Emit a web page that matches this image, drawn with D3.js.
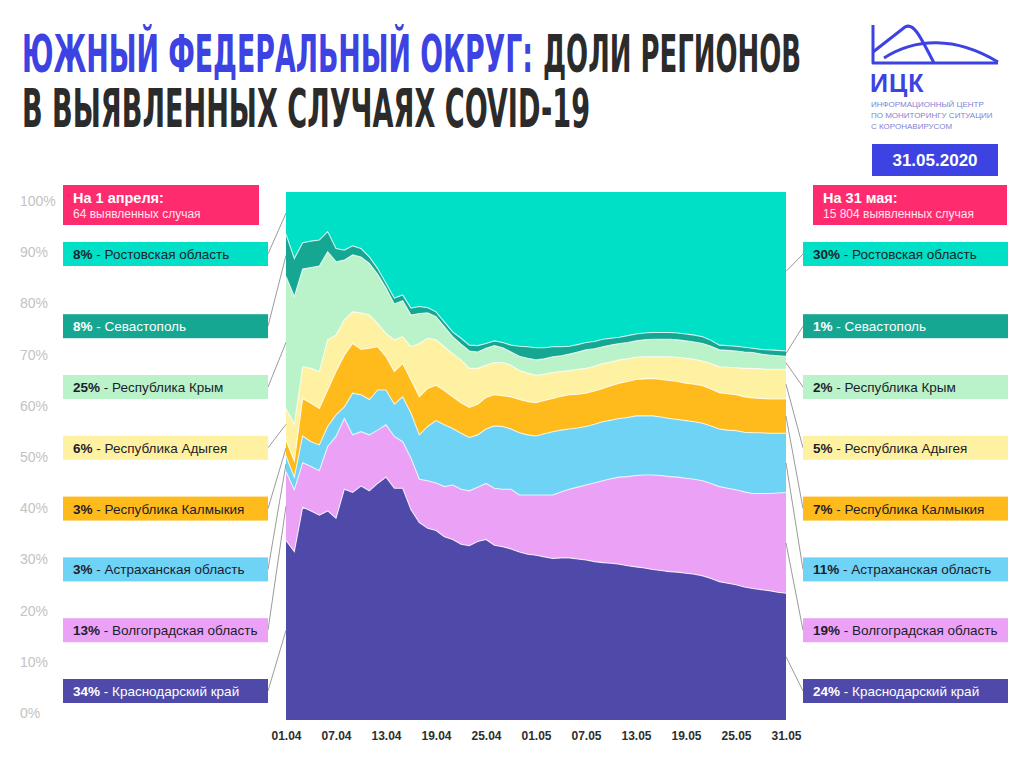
<!DOCTYPE html>
<html><head><meta charset="utf-8">
<script src="https://cdn.jsdelivr.net/npm/d3@7"></script>
<style>
html,body{margin:0;padding:0;background:#fff;}
svg{display:block;font-family:"Liberation Sans",Arial,Helvetica,sans-serif;}
</style></head>
<body><svg id="c" width="1024" height="768"></svg>
<script>
// ---------- DATA ----------
const tickLabels = ["01.04","07.04","13.04","19.04","25.04","01.05","07.05","13.05","19.05","25.05","31.05"];
const regions = ["Краснодарский край","Волгоградская область","Астраханская область","Республика Калмыкия","Республика Адыгея","Республика Крым","Севастополь","Ростовская область"];
const startPct = ["34%","13%","3%","3%","6%","25%","8%","8%"];
const endPct   = ["24%","19%","11%","7%","5%","2%","1%","30%"];
const startHeader = ["На 1 апреля:","64 выявленных случая"];
const endHeader = ["На 31 мая:","15 804 выявленных случая"];
const yTicks = [0,10,20,30,40,50,60,70,80,90,100];

// daily shares (%) 01.04 … 31.05
const krasnodar = [34,31.9,40.3,39.6,38.8,39.6,38.2,43.7,43.1,44.3,43.4, 44.8,46.0,43.9,43.9,39.8,37.4,36.3,35.9,34.7,34.2, 33.3,33.0,33.8,34.2,33.1,32.8,32.4,31.8,31.4,31.2, 30.9,30.6,30.7,30.7,30.5,30.3,30.0,29.8,29.7,29.5, 29.2,29.0,28.8,28.5,28.3,28.1,28.0,27.8,27.6,27.3, 26.8,26.2,25.9,25.6,25.2,24.9,24.7,24.5,24.2,24.0];
const volgograd = [13,11.7,8.4,8.4,8.4,12.2,15.5,13.4,10.9,10.3,10.6, 10.1,9.9,9.8,8.8,9.8,8.2,9.0,9.0,9.5,10.3, 10.4,10.4,10.3,10.6,10.8,10.9,11.3,10.8,11.2,11.4, 11.7,12.0,12.5,13.0,13.6,14.2,14.9,15.5,16.0,16.5, 16.9,17.3,17.6,17.9,18.0,18.0,18.0,18.0,18.0,18.0, 18.0,18.0,18.0,18.0,18.0,18.0,18.2,18.4,18.8,19.1];
const astrakhan = [3,2.4,5.1,4.7,4.9,3.8,4.1,2.2,7.9,7.0,6.7, 7.6,6.6,6.1,8.5,8.5,8.4,10.3,11.8,11.7,10.7, 10.6,10.1,9.9,10.3,11.8,11.9,11.4,11.8,11.4,11.2, 11.6,12.0,11.7,11.4,11.2,11.1,11.1,11.2,11.1,11.1, 11.2,11.3,11.2,11.2,11.1,11.0,10.9,10.9,10.9,10.9, 10.9,10.9,11.0,11.2,11.3,11.5,11.5,11.4,11.3,11.2];
const kalmykia = [3,3.0,7.1,7.3,6.9,6.9,8.2,9.8,9.4,8.6,9.7, 8.2,6.3,6.2,6.3,6.3,7.2,7.2,6.7,6.5,6.0, 5.8,5.7,5.8,6.0,5.9,5.8,6.1,6.3,6.3,6.3, 6.3,6.3,6.4,6.5,6.4,6.3,6.3,6.3,6.5,6.7, 6.8,6.9,7.0,7.1,7.1,7.2,7.2,7.1,7.1,7.1, 7.0,6.9,6.9,6.8,6.7,6.6,6.5,6.5,6.5,6.5];
const adygea = [6,7.0,6.0,6.6,7.0,9.5,6.9,6.7,6.0,6.9,6.3, 4.4,4.4,6.0,5.1,6.3,10.1,9.5,8.6,8.3,8.2, 8.1,7.4,6.8,6.1,6.1,6.3,6.0,5.5,5.4,5.2, 5.0,4.9,4.7,4.6,4.7,4.7,4.7,4.7,4.5,4.4, 4.3,4.2,4.2,4.1,4.3,4.5,4.6,4.7,4.7,4.7, 4.8,4.9,5.0,5.1,5.4,5.6,5.6,5.6,5.6,5.6];
const crimea = [25,24.2,18.5,19.1,20.0,16.7,13.9,11.3,10.8,10.6,9.8, 9.3,8.6,6.8,6.8,6.0,5.7,4.8,4.4,3.8,3.2, 3.0,3.3,3.1,3.2,3.2,2.8,2.5,2.7,2.8,2.9, 2.9,3.0,3.0,3.1,3.3,3.5,3.3,3.2,3.2,3.1, 3.1,3.1,3.2,3.3,3.3,3.3,3.3,3.3,3.3,3.3, 3.3,3.2,3.2,3.2,3.1,3.0,2.8,2.7,2.6,2.5];
const sevastopol = [8,7.2,5.0,5.0,4.9,3.8,2.5,1.9,1.7,1.6,1.2, 1.1,0.9,1.1,1.1,1.3,1.3,1.0,0.9,0.9,0.9, 1.1,1.1,1.2,0.9,0.9,1.0,1.3,1.9,2.2,2.3, 2.1,1.9,1.7,1.5,1.4,1.4,1.4,1.4,1.3,1.2, 1.3,1.3,1.3,1.3,1.3,1.3,1.3,1.3,1.3,1.3, 1.1,0.9,0.9,0.9,0.9,0.8,0.9,1.0,1.0,1.0];
const rostov = [8,12.6,9.6,9.3,9.1,7.5,10.7,11.0,10.2,10.7,12.3, 14.5,17.3,20.1,19.5,22.0,21.7,21.9,22.7,24.6,26.5, 27.7,29.0,29.1,28.7,28.2,28.5,29.0,29.2,29.3,29.5, 29.5,29.3,29.3,29.2,28.9,28.5,28.3,27.9,27.7,27.5, 27.2,26.9,26.7,26.6,26.6,26.6,26.7,26.9,27.1,27.4, 28.1,29.0,29.1,29.2,29.4,29.6,29.8,29.9,30.0,30.1];

// ---------- STYLE ----------
const colors = ["#4f4aa9","#eba2f6","#6fd3f6","#ffbb1c","#fff1a2","#baf2ca","#16a793","#00e0c7"];
const textColors = ["#fff","#1d1d2b","#1d1d2b","#1d1d2b","#1d1d2b","#1d1d2b","#fff","#1d1d2b"];
const blue = "#3d42e2", pink = "#ff2b6f";

const series = [krasnodar,volgograd,astrakhan,kalmykia,adygea,crimea,sevastopol,rostov];
const nDays = krasnodar.length;
const table = d3.range(nDays).map(i => {
  const o = {day:i};
  regions.forEach((r,k)=> o[r] = series[k][i]);
  return o;
});
const stacked = d3.stack().keys(regions).offset(d3.stackOffsetExpand)(table);

const svg = d3.select("#c");
svg.append("rect").attr("width",1024).attr("height",768).attr("fill","#fff");

const x = d3.scaleLinear().domain([0,nDays-1]).range([286,786]);
const y = d3.scaleLinear().domain([0,1]).range([720,192]);
const yLab = d3.scaleLinear().domain([0,100]).range([713,201]);

// areas
const area = d3.area().x(d=>x(d.data.day)).y0(d=>y(d[0])).y1(d=>y(d[1]));
svg.append("g").selectAll("path").data(stacked).join("path")
  .attr("d",area).attr("fill",(d,i)=>colors[i]);
const topLine = d3.line().x(d=>x(d.data.day)).y(d=>y(d[1]));
svg.append("g").selectAll("path").data(stacked.slice(0,7)).join("path")
  .attr("d",topLine).attr("fill","none")
  .attr("stroke","rgba(255,255,255,0.75)").attr("stroke-width",1.1);

// y labels
svg.append("g").selectAll("text").data(yTicks).join("text")
  .attr("x",20).attr("y",d=>yLab(d)).attr("dy","0.36em")
  .attr("font-size",14).attr("fill","#c3c3c3").text(d=>d+"%");

// x axis
const tickDays = tickLabels.map((t,i)=>i*6);
const xAxis = d3.axisBottom(x).tickValues(tickDays).tickSize(0).tickPadding(11)
  .tickFormat((d,i)=>tickLabels[i]);
const gx = svg.append("g").attr("transform","translate(0,720)").call(xAxis);
gx.select(".domain").remove();
gx.selectAll("text").attr("font-size",12).attr("font-weight","bold")
  .attr("fill","#2e2e2e").attr("font-family","Liberation Sans, Arial, sans-serif");

// label boxes
const boxTop = k => k<7 ? 679 - k*60.8 : 242;
function drawBoxes(side){
  const left = side==="L";
  const bx = left ? 63 : 803, bw = 205, bh = 24;
  const di = left ? 0 : nDays-1;
  const pcts = left ? startPct : endPct;
  const g = svg.append("g");
  regions.forEach((r,k)=>{
    const t = boxTop(k);
    const s = stacked[k][di];
    const ym = y((s[0]+s[1])/2);
    g.append("line")
      .attr("x1", left ? bx+bw : bx).attr("y1", t+bh/2)
      .attr("x2", left ? 286 : 786).attr("y2", ym)
      .attr("stroke","#8f8f8f").attr("stroke-width",0.9);
    g.append("rect").attr("x",bx).attr("y",t).attr("width",bw).attr("height",bh).attr("fill",colors[k]);
    const tx = g.append("text").attr("x",bx+10).attr("y",t+17).attr("font-size",13.5).attr("fill",textColors[k]);
    tx.append("tspan").attr("font-weight","bold").text(pcts[k]);
    tx.append("tspan").text(" - "+r);
  });
  const hx = left ? 63 : 813, hw = left ? 196 : 194;
  const hdr = left ? startHeader : endHeader;
  g.append("rect").attr("x",hx).attr("y",185).attr("width",hw).attr("height",40).attr("fill",pink);
  g.append("text").attr("x",hx+10).attr("y",203).attr("font-size",14.5).attr("font-weight","bold")
    .attr("fill","#fff").text(hdr[0]);
  g.append("text").attr("x",hx+10).attr("y",218).attr("font-size",12).attr("fill","#ffe3ec").text(hdr[1]);
}
drawBoxes("L"); drawBoxes("R");

// title
const tf = "'Liberation Sans Narrow','DejaVu Sans Condensed','Liberation Sans',sans-serif";
svg.append("text").attr("x",22).attr("y",72).attr("font-family",tf).attr("font-weight","bold")
  .attr("font-size",52).attr("fill",blue).attr("textLength",511).attr("lengthAdjust","spacingAndGlyphs")
  .text("ЮЖНЫЙ ФЕДЕРАЛЬНЫЙ ОКРУГ:");
svg.append("text").attr("x",543).attr("y",72).attr("font-family",tf).attr("font-weight","bold")
  .attr("font-size",52).attr("fill","#2b2b2b").attr("textLength",258).attr("lengthAdjust","spacingAndGlyphs")
  .text("ДОЛИ РЕГИОНОВ");
svg.append("text").attr("x",22).attr("y",127).attr("font-family",tf).attr("font-weight","bold")
  .attr("font-size",53).attr("fill","#2b2b2b").attr("textLength",568).attr("lengthAdjust","spacingAndGlyphs")
  .text("В ВЫЯВЛЕННЫХ СЛУЧАЯХ COVID-19");

// logo
const lg = svg.append("g").attr("fill","none").attr("stroke",blue).attr("stroke-width",3).attr("stroke-linejoin","round");
lg.append("path").attr("d","M873,25 V63 H998");
lg.append("path").attr("d","M873,52 L905,27 C914,22 921,38 934,63");
lg.append("path").attr("d","M884,58 C915,38 955,36 998,62");
svg.append("text").attr("x",870).attr("y",92).attr("font-size",25).attr("font-weight","bold")
  .attr("fill",blue).attr("letter-spacing",1).text("ИЦК");
const small = ["ИНФОРМАЦИОННЫЙ ЦЕНТР","ПО МОНИТОРИНГУ СИТУАЦИИ","С КОРОНАВИРУСОМ"];
const sg = svg.append("g").attr("font-size",8).attr("fill","#7e84d6");
small.forEach((s,i)=>{
  sg.append("text").attr("x",871).attr("y",107+i*11).text(s);
});
svg.append("rect").attr("x",872).attr("y",144).attr("width",126).attr("height",32).attr("fill",blue);
svg.append("text").attr("x",935).attr("y",166).attr("text-anchor","middle").attr("font-size",17)
  .attr("font-weight","bold").attr("fill","#fff").text("31.05.2020");
</script></body></html>
